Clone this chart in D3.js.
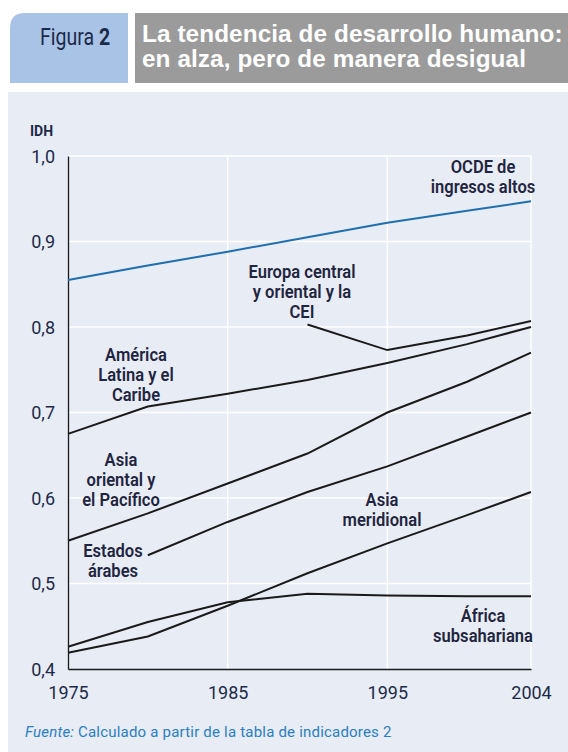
<!DOCTYPE html>
<html><head><meta charset="utf-8">
<script src="https://cdn.jsdelivr.net/npm/d3@7"></script>
<style>
body{margin:0;background:#fff;}
svg text{font-family:Roboto,"Liberation Sans",sans-serif;}
</style></head><body>
<svg id="c" width="568" height="752"></svg>
<script>
const years = [1975, 1980, 1985, 1990, 1995, 2000, 2004];
const xTicks = [1975, 1985, 1995, 2004];
const yTicks = [0.4, 0.5, 0.6, 0.7, 0.8, 0.9, 1.0];
const oecd = [0.855, 0.872, 0.888, 0.905, 0.922, 0.936, 0.947];
const europeCEI = [null, null, null, 0.803, 0.773, 0.790, 0.807];
const latinAmerica = [0.675, 0.707, 0.722, 0.738, 0.758, 0.780, 0.800];
const eastAsia = [0.550, 0.582, 0.617, 0.652, 0.700, 0.736, 0.770];
const arabStates = [null, 0.533, 0.572, 0.607, 0.637, 0.672, 0.700];
const southAsia = [0.419, 0.438, 0.474, 0.512, 0.547, 0.580, 0.607];
const subSaharan = [0.426, 0.455, 0.478, 0.488, 0.486, 0.485, 0.485];

const seriesList = [
  {name:"oecd", values:oecd, color:"#1f6fae"},
  {name:"europe", values:europeCEI, color:"#1a1a1a"},
  {name:"latam", values:latinAmerica, color:"#1a1a1a"},
  {name:"eastasia", values:eastAsia, color:"#1a1a1a"},
  {name:"arab", values:arabStates, color:"#1a1a1a"},
  {name:"southasia", values:southAsia, color:"#1a1a1a"},
  {name:"ssa", values:subSaharan, color:"#1a1a1a"}
];

const svg = d3.select("#c");
// header
svg.append("path").attr("d","M10,83 L10,28 Q10,13 25,13 L128,13 L128,83 Z").attr("fill","#a9c3e6");
svg.append("text").attr("x",75).attr("y",45).attr("text-anchor","middle")
  .attr("font-size",23).attr("fill","#1c2a4a")
  .attr("transform","translate(75,0) scale(0.85,1) translate(-75,0)")
  .html('Figura <tspan font-weight="bold">2</tspan>');
svg.append("rect").attr("x",135).attr("y",13).attr("width",433).attr("height",70).attr("fill","#9b9b9b");
const tt = svg.append("text").attr("font-weight","bold").attr("font-size",24.3).attr("fill","#ffffff")
  .style("font-family","'Liberation Sans','DejaVu Sans',sans-serif").style("letter-spacing","0.1px");
tt.append("tspan").attr("x",142).attr("y",42).text("La tendencia de desarrollo humano:");
tt.append("tspan").attr("x",142).attr("y",67).text("en alza, pero de manera desigual");

// panel
svg.append("rect").attr("x",8).attr("y",92).attr("width",560).attr("height",660).attr("fill","#e8ecf4");

const x = d3.scaleLinear().domain([1975, 2004]).range([68, 531]);
const y = d3.scaleLinear().domain([0.4, 1.0]).range([669, 156]);

// grid
const g = svg.append("g");
g.selectAll(".hg").data(yTicks.filter(d=>d>0.4)).join("line")
  .attr("x1",x(1975)).attr("x2",x(2004)).attr("y1",d=>y(d)).attr("y2",d=>y(d))
  .attr("stroke","#ffffff").attr("stroke-width",1.5);
g.selectAll(".vg").data(xTicks.filter(d=>d>1975)).join("line")
  .attr("x1",d=>x(d)).attr("x2",d=>x(d)).attr("y1",y(1.0)).attr("y2",y(0.4))
  .attr("stroke","#ffffff").attr("stroke-width",1.5);

// axes
const yAxis = d3.axisLeft(y).tickValues(yTicks).tickSize(0).tickPadding(13)
  .tickFormat(d=>d3.format(".1f")(d).replace(".",","));
const ya = svg.append("g").attr("transform",`translate(${x(1975)},0)`).call(yAxis);
ya.select(".domain").attr("stroke","#1a1a1a").attr("stroke-width",1.3);
ya.selectAll("text").attr("font-size",18).attr("fill","#1c2a4a").attr("dy","0.36em")
  .style("font-family","Roboto,sans-serif");

const xAxis = d3.axisBottom(x).tickValues(xTicks).tickSize(0).tickPadding(17).tickFormat(d3.format("d"));
const xa = svg.append("g").attr("transform",`translate(0,${y(0.4)})`).call(xAxis);
xa.select(".domain").attr("stroke","#1a1a1a").attr("stroke-width",1.3);
xa.selectAll("text").attr("font-size",18).attr("fill","#1c2a4a").style("font-family","Roboto,sans-serif");

svg.append("text").attr("x",30).attr("y",136).attr("font-size",14).attr("font-weight","bold")
  .attr("fill","#1c2a4a").text("IDH");

// lines
const line = d3.line().defined(d=>d.v!=null).x(d=>x(d.yr)).y(d=>y(d.v));
svg.append("g").selectAll("path").data(seriesList).join("path")
  .attr("d",s=>line(years.map((yr,i)=>({yr, v:s.values[i]}))))
  .attr("fill","none").attr("stroke",s=>s.color).attr("stroke-width",2);

// labels
const labels = [
  {lines:["OCDE de","ingresos altos"], x:483, y:167},
  {lines:["Europa central","y oriental y la","CEI"], x:302, y:272},
  {lines:["América","Latina y el","Caribe"], x:136, y:355},
  {lines:["Asia","oriental y","el Pacífico"], x:121, y:460},
  {lines:["Estados","árabes"], x:113, y:551},
  {lines:["Asia","meridional"], x:382, y:500},
  {lines:["África","subsahariana"], x:483, y:616}
];
labels.forEach(l=>{
  const t = svg.append("text").attr("text-anchor","middle").attr("font-size",18)
    .attr("font-weight","600").attr("fill","#1f2540")
    .attr("transform",`translate(${l.x},0) scale(0.92,1) translate(${-l.x},0)`);
  l.lines.forEach((s,i)=>t.append("tspan").attr("x",l.x).attr("y",l.y+i*20).attr("dy","0.35em").text(s));
});

// source
svg.append("text").attr("x",25).attr("y",737).attr("font-size",15).attr("fill","#2a7fc1")
  .style("letter-spacing","0.2px")
  .html('<tspan font-style="italic">Fuente:</tspan> Calculado a partir de la tabla de indicadores 2');
</script></body></html>
